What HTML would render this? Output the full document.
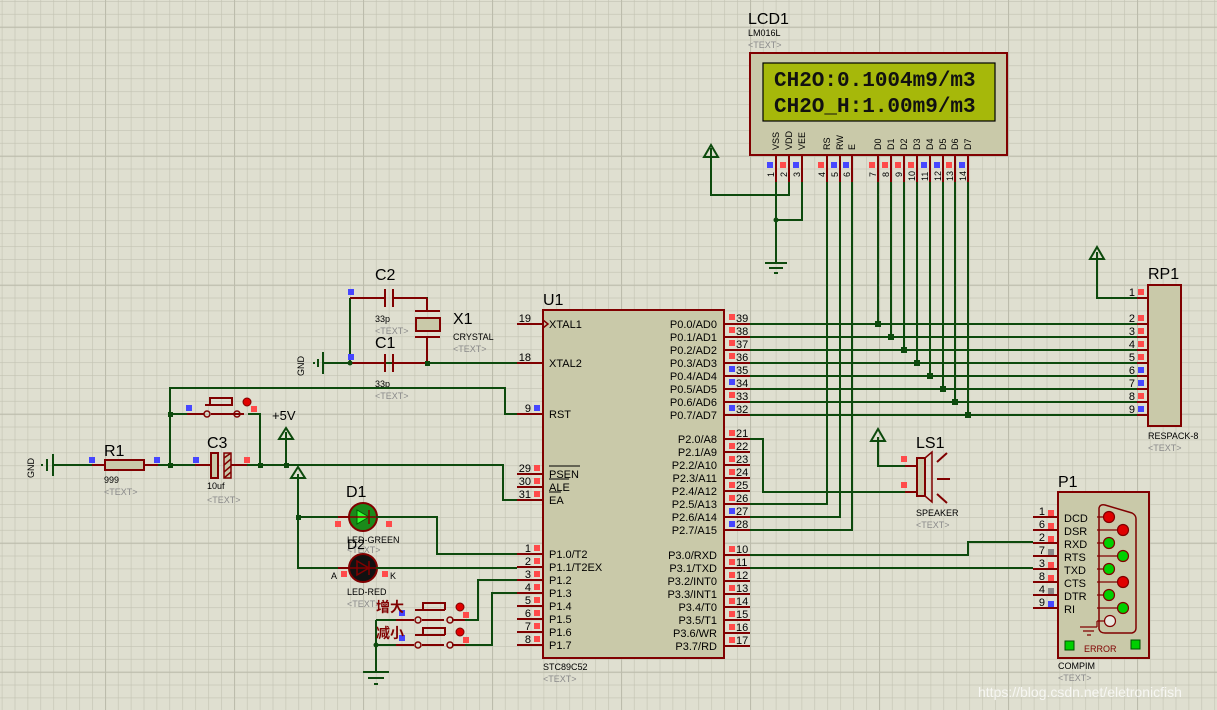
<!DOCTYPE html>
<html><head><meta charset="utf-8"><style>
html,body{margin:0;padding:0;background:#dfdfd0;}
svg{display:block;font-family:"Liberation Sans","Noto Sans CJK SC",sans-serif;}
.w{stroke:#0d4a0d;stroke-width:2;fill:none}
.p{stroke:#800000;stroke-width:2;fill:none}
.b{fill:#c9c9a9;stroke:#800000;stroke-width:2}
.t{font-size:11px;fill:#000}
.g{font-size:9px;fill:#8a8a8a}
.n{font-size:16px;fill:#000}
.r{fill:#ff4a4a}.u{fill:#4646ff}
</style></head><body>
<svg width="1217" height="710" viewBox="0 0 1217 710" xmlns="http://www.w3.org/2000/svg">
<defs>
<pattern id="mi" x="1.8" y="1" width="12.9" height="12.9" patternUnits="userSpaceOnUse">
<path d="M0 0H12.9M0 0V12.9" stroke="#c2c2b2" stroke-width="1.2"/></pattern>
<pattern id="ma" x="105" y="26.7" width="129" height="129" patternUnits="userSpaceOnUse">
<path d="M0 0H129M0 0V129" stroke="#bcbcac" stroke-width="2.2"/></pattern>
</defs>
<rect width="1217" height="710" fill="#dfdfd0"/>
<rect width="1217" height="710" fill="url(#mi)"/>
<rect width="1217" height="710" fill="url(#ma)"/>

<!-- LCD -->
<text x="748" y="24" class="n">LCD1</text>
<text x="748" y="36" style="font-size:9px">LM016L</text>
<text x="748" y="48" class="g">&lt;TEXT&gt;</text>
<rect x="750" y="53" width="257" height="102" class="b"/>
<rect x="763" y="63" width="232" height="58" fill="#a6b80a" stroke="#000" stroke-width="1.2"/>
<text x="774" y="86" style="font-family:'Liberation Mono',monospace;font-size:21px;font-weight:bold;fill:#111">CH2O:0.1004m9/m3</text>
<text x="774" y="112" style="font-family:'Liberation Mono',monospace;font-size:21px;font-weight:bold;fill:#111">CH2O_H:1.00m9/m3</text>
<g style="font-size:9px">
<text transform="translate(779,150) rotate(-90)">VSS</text>
<text transform="translate(792,150) rotate(-90)">VDD</text>
<text transform="translate(805,150) rotate(-90)">VEE</text>
<text transform="translate(830,150) rotate(-90)">RS</text>
<text transform="translate(843,150) rotate(-90)">RW</text>
<text transform="translate(855,150) rotate(-90)">E</text>
<text transform="translate(881,150) rotate(-90)">D0</text>
<text transform="translate(894,150) rotate(-90)">D1</text>
<text transform="translate(907,150) rotate(-90)">D2</text>
<text transform="translate(920,150) rotate(-90)">D3</text>
<text transform="translate(933,150) rotate(-90)">D4</text>
<text transform="translate(946,150) rotate(-90)">D5</text>
<text transform="translate(958,150) rotate(-90)">D6</text>
<text transform="translate(971,150) rotate(-90)">D7</text>
</g>
<path class="p" d="M776 155V182M789 155V182M802 155V182M827 155V182M840 155V182M852 155V182M878 155V182M891 155V182M904 155V182M917 155V182M930 155V182M943 155V182M955 155V182M968 155V182"/>
<rect x="767" y="162" width="6" height="6" class="u"/><rect x="780" y="162" width="6" height="6" class="r"/><rect x="793" y="162" width="6" height="6" class="u"/>
<rect x="818" y="162" width="6" height="6" class="r"/><rect x="831" y="162" width="6" height="6" class="u"/><rect x="843" y="162" width="6" height="6" class="u"/>
<rect x="869" y="162" width="6" height="6" class="r"/><rect x="882" y="162" width="6" height="6" class="r"/><rect x="895" y="162" width="6" height="6" class="r"/><rect x="908" y="162" width="6" height="6" class="r"/><rect x="921" y="162" width="6" height="6" class="u"/><rect x="934" y="162" width="6" height="6" class="u"/><rect x="946" y="162" width="6" height="6" class="r"/><rect x="959" y="162" width="6" height="6" class="u"/>
<g style="font-size:9px">
<text transform="translate(774,177) rotate(-90)">1</text><text transform="translate(787,177) rotate(-90)">2</text><text transform="translate(800,177) rotate(-90)">3</text>
<text transform="translate(825,177) rotate(-90)">4</text><text transform="translate(838,177) rotate(-90)">5</text><text transform="translate(850,177) rotate(-90)">6</text>
<text transform="translate(876,177) rotate(-90)">7</text><text transform="translate(889,177) rotate(-90)">8</text><text transform="translate(902,177) rotate(-90)">9</text>
<text transform="translate(915,181) rotate(-90)">10</text><text transform="translate(928,181) rotate(-90)">11</text><text transform="translate(941,181) rotate(-90)">12</text><text transform="translate(953,181) rotate(-90)">13</text><text transform="translate(966,181) rotate(-90)">14</text>
</g>
<path class="w" d="M776 182V262M789 182V195H711V148M802 182V220H776"/>
<path class="w" d="M704 157L711 145L718 157Z"/>
<path class="w" d="M765 263H787M769 268H783M774 273H778"/>
<circle cx="776" cy="220" r="2.5" fill="#0d4a0d"/>
<path class="w" d="M878 182V324M891 182V337M904 182V350M917 182V363M930 182V376M943 182V389M955 182V402M968 182V415"/>
<path class="w" d="M827 182V504H750M840 182V517H750M852 182V530H750"/>
<g fill="#0d4a0d"><rect x="875" y="321" width="6" height="6"/><rect x="888" y="334" width="6" height="6"/><rect x="901" y="347" width="6" height="6"/><rect x="914" y="360" width="6" height="6"/><rect x="927" y="373" width="6" height="6"/><rect x="940" y="386" width="6" height="6"/><rect x="952" y="399" width="6" height="6"/><rect x="965" y="412" width="6" height="6"/></g>
<path class="w" d="M750 324H1137M750 337H1137M750 350H1137M750 363H1137M750 376H1137M750 389H1137M750 402H1137M750 415H1137"/>

<!-- RP1 -->
<text x="1148" y="279" class="n">RP1</text>
<rect x="1148" y="285" width="33" height="141" class="b"/>
<path class="p" d="M1137 298H1148M1137 324H1148M1137 337H1148M1137 350H1148M1137 363H1148M1137 376H1148M1137 389H1148M1137 402H1148M1137 415H1148"/>
<path class="w" d="M1137 298H1097V252"/><path class="w" d="M1090 259L1097 247L1104 259Z"/>
<g class="t" text-anchor="end"><text x="1135" y="296">1</text><text x="1135" y="322">2</text><text x="1135" y="335">3</text><text x="1135" y="348">4</text><text x="1135" y="361">5</text><text x="1135" y="374">6</text><text x="1135" y="387">7</text><text x="1135" y="400">8</text><text x="1135" y="413">9</text></g>
<rect x="1138" y="289" width="6" height="6" class="r"/><rect x="1138" y="315" width="6" height="6" class="r"/><rect x="1138" y="328" width="6" height="6" class="r"/><rect x="1138" y="341" width="6" height="6" class="r"/><rect x="1138" y="354" width="6" height="6" class="r"/><rect x="1138" y="367" width="6" height="6" class="u"/><rect x="1138" y="380" width="6" height="6" class="u"/><rect x="1138" y="393" width="6" height="6" class="r"/><rect x="1138" y="406" width="6" height="6" class="u"/>
<text x="1148" y="439" style="font-size:9px">RESPACK-8</text>
<text x="1148" y="451" class="g">&lt;TEXT&gt;</text>

<!-- U1 -->
<text x="543" y="305" class="n">U1</text>
<rect x="543" y="310" width="181" height="348" class="b"/>
<path class="p" d="M517 324H543M517 363H543M517 414H543M517 474H543M517 487H543M517 500H543M517 554H543M517 567H543M517 580H543M517 593H543M517 606H543M517 619H543M517 632H543M517 645H543"/>
<path class="p" d="M724 324H750M724 337H750M724 350H750M724 363H750M724 376H750M724 389H750M724 402H750M724 415H750M724 439H750M724 452H750M724 465H750M724 478H750M724 491H750M724 504H750M724 517H750M724 530H750M724 555H750M724 568H750M724 581H750M724 594H750M724 607H750M724 620H750M724 633H750M724 646H750"/>
<path d="M543 320L548 324L543 328" stroke="#800000" stroke-width="1.5" fill="none"/>
<g class="t">
<text x="549" y="328">XTAL1</text><text x="549" y="367">XTAL2</text><text x="549" y="418">RST</text>
<text x="549" y="478">PSEN</text><text x="549" y="491">ALE</text><text x="549" y="504">EA</text>
<text x="549" y="558">P1.0/T2</text><text x="549" y="571">P1.1/T2EX</text><text x="549" y="584">P1.2</text><text x="549" y="597">P1.3</text><text x="549" y="610">P1.4</text><text x="549" y="623">P1.5</text><text x="549" y="636">P1.6</text><text x="549" y="649">P1.7</text>
</g>
<path d="M549 466H580M549 479H569M549 492H561" stroke="#000" stroke-width="1"/>
<g class="t" text-anchor="end">
<text x="717" y="328">P0.0/AD0</text><text x="717" y="341">P0.1/AD1</text><text x="717" y="354">P0.2/AD2</text><text x="717" y="367">P0.3/AD3</text><text x="717" y="380">P0.4/AD4</text><text x="717" y="393">P0.5/AD5</text><text x="717" y="406">P0.6/AD6</text><text x="717" y="419">P0.7/AD7</text>
<text x="717" y="443">P2.0/A8</text><text x="717" y="456">P2.1/A9</text><text x="717" y="469">P2.2/A10</text><text x="717" y="482">P2.3/A11</text><text x="717" y="495">P2.4/A12</text><text x="717" y="508">P2.5/A13</text><text x="717" y="521">P2.6/A14</text><text x="717" y="534">P2.7/A15</text>
<text x="717" y="559">P3.0/RXD</text><text x="717" y="572">P3.1/TXD</text><text x="717" y="585">P3.2/INT0</text><text x="717" y="598">P3.3/INT1</text><text x="717" y="611">P3.4/T0</text><text x="717" y="624">P3.5/T1</text><text x="717" y="637">P3.6/WR</text><text x="717" y="650">P3.7/RD</text>
</g>
<g class="t">
<text x="736" y="322">39</text><text x="736" y="335">38</text><text x="736" y="348">37</text><text x="736" y="361">36</text><text x="736" y="374">35</text><text x="736" y="387">34</text><text x="736" y="400">33</text><text x="736" y="413">32</text>
<text x="736" y="437">21</text><text x="736" y="450">22</text><text x="736" y="463">23</text><text x="736" y="476">24</text><text x="736" y="489">25</text><text x="736" y="502">26</text><text x="736" y="515">27</text><text x="736" y="528">28</text>
<text x="736" y="553">10</text><text x="736" y="566">11</text><text x="736" y="579">12</text><text x="736" y="592">13</text><text x="736" y="605">14</text><text x="736" y="618">15</text><text x="736" y="631">16</text><text x="736" y="644">17</text>
</g>
<g>
<rect x="729" y="314" width="6" height="6" class="r"/><rect x="729" y="327" width="6" height="6" class="r"/><rect x="729" y="340" width="6" height="6" class="r"/><rect x="729" y="353" width="6" height="6" class="r"/><rect x="729" y="366" width="6" height="6" class="u"/><rect x="729" y="379" width="6" height="6" class="u"/><rect x="729" y="392" width="6" height="6" class="r"/><rect x="729" y="405" width="6" height="6" class="u"/>
<rect x="729" y="430" width="6" height="6" class="r"/><rect x="729" y="443" width="6" height="6" class="r"/><rect x="729" y="456" width="6" height="6" class="r"/><rect x="729" y="469" width="6" height="6" class="r"/><rect x="729" y="482" width="6" height="6" class="r"/><rect x="729" y="495" width="6" height="6" class="r"/><rect x="729" y="508" width="6" height="6" class="u"/><rect x="729" y="521" width="6" height="6" class="u"/>
<rect x="729" y="546" width="6" height="6" class="r"/><rect x="729" y="559" width="6" height="6" class="r"/><rect x="729" y="572" width="6" height="6" class="r"/><rect x="729" y="585" width="6" height="6" class="r"/><rect x="729" y="598" width="6" height="6" class="r"/><rect x="729" y="611" width="6" height="6" class="r"/><rect x="729" y="624" width="6" height="6" class="r"/><rect x="729" y="637" width="6" height="6" class="r"/>
</g>
<g class="t" text-anchor="end">
<text x="531" y="322">19</text><text x="531" y="361">18</text><text x="531" y="412">9</text><text x="531" y="472">29</text><text x="531" y="485">30</text><text x="531" y="498">31</text>
<text x="531" y="552">1</text><text x="531" y="565">2</text><text x="531" y="578">3</text><text x="531" y="591">4</text><text x="531" y="604">5</text><text x="531" y="617">6</text><text x="531" y="630">7</text><text x="531" y="643">8</text>
</g>
<rect x="534" y="405" width="6" height="6" class="u"/>
<rect x="534" y="465" width="6" height="6" class="r"/><rect x="534" y="478" width="6" height="6" class="r"/><rect x="534" y="491" width="6" height="6" class="r"/>
<rect x="534" y="545" width="6" height="6" class="r"/><rect x="534" y="558" width="6" height="6" class="r"/><rect x="534" y="571" width="6" height="6" class="r"/><rect x="534" y="584" width="6" height="6" class="r"/><rect x="534" y="597" width="6" height="6" class="r"/><rect x="534" y="610" width="6" height="6" class="r"/><rect x="534" y="623" width="6" height="6" class="r"/><rect x="534" y="636" width="6" height="6" class="r"/>
<text x="543" y="670" style="font-size:9px">STC89C52</text>
<text x="543" y="682" class="g">&lt;TEXT&gt;</text>

<!-- Speaker -->
<path class="w" d="M750 439H763V492H905M905 466H878V437"/><path class="w" d="M871 441L878 429L885 441Z"/>
<path class="p" d="M905 466H917M905 492H917"/>
<rect x="917" y="458" width="8" height="38" class="b" stroke-width="1.5"/>
<path d="M925 458L932 452V502L925 496" stroke="#800000" stroke-width="1.5" fill="none"/>
<path d="M937 462L947 453M937 479H950M937 494L947 503" class="p"/>
<rect x="901" y="456" width="6" height="6" class="r"/><rect x="901" y="482" width="6" height="6" class="r"/>
<text x="916" y="448" class="n">LS1</text>
<text x="916" y="516" style="font-size:9px">SPEAKER</text>
<text x="916" y="528" class="g">&lt;TEXT&gt;</text>

<!-- P3 to P1 -->
<path class="w" d="M750 555H968V542H1033M750 568H1033"/>
<text x="1058" y="487" class="n">P1</text>
<rect x="1058" y="492" width="91" height="166" class="b"/>
<path class="p" d="M1033 517H1058M1033 530H1058M1033 543H1058M1033 556H1058M1033 569H1058M1033 582H1058M1033 595H1058M1033 608H1058"/>
<g class="t" text-anchor="end"><text x="1045" y="515">1</text><text x="1045" y="528">6</text><text x="1045" y="541">2</text><text x="1045" y="554">7</text><text x="1045" y="567">3</text><text x="1045" y="580">8</text><text x="1045" y="593">4</text><text x="1045" y="606">9</text></g>
<rect x="1048" y="510" width="6" height="6" class="r"/><rect x="1048" y="523" width="6" height="6" class="r"/><rect x="1048" y="536" width="6" height="6" class="r"/><rect x="1048" y="549" width="6" height="6" fill="#888"/><rect x="1048" y="562" width="6" height="6" class="r"/><rect x="1048" y="575" width="6" height="6" class="r"/><rect x="1048" y="588" width="6" height="6" fill="#888"/><rect x="1048" y="601" width="6" height="6" class="u"/>
<g class="t"><text x="1064" y="522">DCD</text><text x="1064" y="535">DSR</text><text x="1064" y="548">RXD</text><text x="1064" y="561">RTS</text><text x="1064" y="574">TXD</text><text x="1064" y="587">CTS</text><text x="1064" y="600">DTR</text><text x="1064" y="613">RI</text></g>
<path d="M1099 508Q1100 504 1105 505L1132 513Q1136 515 1136 519V628Q1136 632 1132 633L1105 633Q1100 633 1099 629Z" stroke="#800000" stroke-width="1.5" fill="none"/>
<path d="M1097 517H1109M1097 530H1122M1097 543H1109M1097 556H1122M1097 569H1109M1097 582H1122M1097 595H1109M1097 608H1122M1097 621H1109M1097 621V627M1080 627H1097M1083 631H1094M1087 635H1091" stroke="#800000" stroke-width="1.2"/>
<g stroke="#800000" stroke-width="1.2">
<circle cx="1109" cy="517" r="5.5" fill="#e00000"/><circle cx="1123" cy="530" r="5.5" fill="#e00000"/><circle cx="1109" cy="543" r="5.5" fill="#00d000"/><circle cx="1123" cy="556" r="5.5" fill="#00d000"/><circle cx="1109" cy="569" r="5.5" fill="#00d000"/><circle cx="1123" cy="582" r="5.5" fill="#e00000"/><circle cx="1109" cy="595" r="5.5" fill="#00d000"/><circle cx="1123" cy="608" r="5.5" fill="#00d000"/><circle cx="1110" cy="621" r="5.5" fill="#e8e8e0"/>
</g>
<rect x="1065" y="641" width="9" height="9" fill="#00d000" stroke="#005000"/><rect x="1131" y="640" width="9" height="9" fill="#00d000" stroke="#005000"/>
<text x="1084" y="652" style="font-size:9px;fill:#800000">ERROR</text>
<text x="1058" y="669" style="font-size:9px">COMPIM</text>
<text x="1058" y="681" class="g">&lt;TEXT&gt;</text>

<!-- Crystal -->
<text x="375" y="280" class="n">C2</text>
<text x="375" y="348" class="n">C1</text>
<path class="w" d="M350 298V363M323 363H517M393 298H427V304M427 355V363"/>
<path class="p" d="M350 298H385M385 289V307M393 289V307M350 363H385M385 354V372M393 354V372M393 363H427M393 298H427M427 298V311M415 311H440M415 337H440M427 337V363"/>
<rect x="416" y="318" width="24" height="13" class="b" stroke-width="1.5"/>
<circle cx="350" cy="363" r="2.5" fill="#0d4a0d"/><rect x="425" y="361" width="5" height="5" fill="#0d4a0d"/>
<rect x="348" y="289" width="6" height="6" class="u"/><rect x="348" y="354" width="6" height="6" class="u"/>
<text x="375" y="322" style="font-size:9px">33p</text><text x="375" y="334" class="g">&lt;TEXT&gt;</text>
<text x="375" y="387" style="font-size:9px">33p</text><text x="375" y="399" class="g">&lt;TEXT&gt;</text>
<text x="453" y="324" class="n">X1</text>
<text x="453" y="340" style="font-size:9px">CRYSTAL</text><text x="453" y="352" class="g">&lt;TEXT&gt;</text>
<path class="w" d="M323 352V374M318 359V367M313 363H315"/>
<text transform="translate(304,376) rotate(-90)" style="font-size:9px">GND</text>

<!-- reset -->
<path class="w" d="M53 465H92M53 454V476M47 459V471M41 465H43"/>
<text transform="translate(34,478) rotate(-90)" style="font-size:9px">GND</text>
<rect x="105" y="460" width="39" height="10" class="b" stroke-width="1.5"/>
<path class="p" d="M92 465H105M144 465H158M195 465H211M226 465H247"/>
<rect x="89" y="457" width="6" height="6" class="u"/><rect x="154" y="457" width="6" height="6" class="u"/>
<text x="104" y="456" class="n">R1</text><text x="104" y="483" style="font-size:9px">999</text><text x="104" y="495" class="g">&lt;TEXT&gt;</text>
<path class="w" d="M158 465H195M247 465H503V500H517M170 465V388H505V414H517M170 414H197M248 414H260V465M286 465V432M298 474V568H350M298 517H350"/>
<rect x="168" y="463" width="5" height="5" fill="#0d4a0d"/><rect x="168" y="412" width="5" height="5" fill="#0d4a0d"/><rect x="258" y="463" width="5" height="5" fill="#0d4a0d"/><rect x="284" y="463" width="5" height="5" fill="#0d4a0d"/><rect x="296" y="515" width="5" height="5" fill="#0d4a0d"/>
<path class="w" d="M279 439L286 428L293 439Z"/><path class="w" d="M291 478L298 467L305 478Z"/>
<text x="272" y="420" style="font-size:13px">+5V</text>
<rect x="211" y="453" width="7" height="25" class="b" stroke-width="1.5"/><rect x="224" y="453" width="7" height="25" fill="#c9c9a9" stroke="#800000" stroke-width="1.5"/>
<path d="M224 458L231 453M224 465L231 459M224 472L231 466M224 478L231 472" stroke="#800000" stroke-width="1.5"/>
<rect x="193" y="457" width="6" height="6" class="u"/><rect x="244" y="457" width="6" height="6" class="r"/>
<text x="207" y="448" class="n">C3</text><text x="207" y="489" style="font-size:9px">10uf</text><text x="207" y="503" class="g">&lt;TEXT&gt;</text>
<path class="p" d="M187 414H204M211 414H244M205 405H233M210 405V398H232V405"/>
<circle cx="207" cy="414" r="3" fill="none" stroke="#800000" stroke-width="1.5"/><circle cx="237" cy="414" r="3" fill="none" stroke="#800000" stroke-width="1.5"/>
<circle cx="247" cy="402" r="4" fill="#e00000" stroke="#800000"/>
<rect x="186" y="405" width="6" height="6" class="u"/><rect x="251" y="406" width="6" height="6" class="r"/>

<!-- LEDs -->
<text x="346" y="497" class="n">D1</text>
<path class="p" d="M338 517H350M376 517H390M338 568H350M376 568H390"/>
<circle cx="363" cy="517" r="14" fill="#1a8a1a" stroke="#800000" stroke-width="2"/>
<path d="M357 510V524L369 517Z" fill="#30ff30" stroke="#006000"/><path d="M369 510V524M350 517H376" stroke="#800000" stroke-width="1.5"/>
<circle cx="363" cy="568" r="14" fill="#111" stroke="#800000" stroke-width="2"/>
<path d="M357 561V575L369 568ZM369 561V575M350 568H376" fill="none" stroke="#800000" stroke-width="1.5"/>
<rect x="335" y="521" width="6" height="6" class="r"/><rect x="386" y="521" width="6" height="6" class="r"/>
<rect x="341" y="571" width="6" height="6" class="r"/><rect x="382" y="571" width="6" height="6" class="r"/>
<text x="347" y="543" style="font-size:9px">LED-GREEN</text><text x="347" y="553" class="g">&lt;TEXT&gt;</text>
<text x="347" y="549" style="font-size:14px;fill:#000">D2</text>
<text x="331" y="579" style="font-size:9px">A</text><text x="390" y="579" style="font-size:9px">K</text>
<text x="347" y="595" style="font-size:9px">LED-RED</text><text x="347" y="607" class="g">&lt;TEXT&gt;</text>
<path class="w" d="M376 517H437V554H517M376 568H517"/>

<!-- switches -->
<path class="w" d="M376 620V672M376 645H396M376 620H396M465 620H478V580H517M465 645H492V593H517"/>
<circle cx="376" cy="645" r="2.5" fill="#0d4a0d"/>
<path class="w" d="M363 672H389M368 678H384M374 684H378"/>
<path class="p" d="M396 620H414M422 620H444M452 620H465M396 645H414M422 645H444M452 645H465M415 610H445M423 610V603H445V610M415 635H445M423 635V628H445V635"/>
<circle cx="418" cy="620" r="3" fill="none" stroke="#800000" stroke-width="1.5"/><circle cx="450" cy="620" r="3" fill="none" stroke="#800000" stroke-width="1.5"/>
<circle cx="418" cy="645" r="3" fill="none" stroke="#800000" stroke-width="1.5"/><circle cx="450" cy="645" r="3" fill="none" stroke="#800000" stroke-width="1.5"/>
<circle cx="460" cy="607" r="4" fill="#e00000" stroke="#800000"/><circle cx="460" cy="632" r="4" fill="#e00000" stroke="#800000"/>
<rect x="399" y="610" width="6" height="6" class="u"/><rect x="463" y="612" width="6" height="6" class="r"/>
<rect x="399" y="635" width="6" height="6" class="u"/><rect x="463" y="637" width="6" height="6" class="r"/>
<text x="376" y="612" style="font-size:14px;fill:#800000;font-weight:bold">增大</text>
<text x="376" y="638" style="font-size:14px;fill:#800000;font-weight:bold">减小</text>

<text x="978" y="697" style="font-size:14px;fill:#ffffff;opacity:0.75">https://blog.csdn.net/eletronicfish</text>
</svg>
</body></html>
